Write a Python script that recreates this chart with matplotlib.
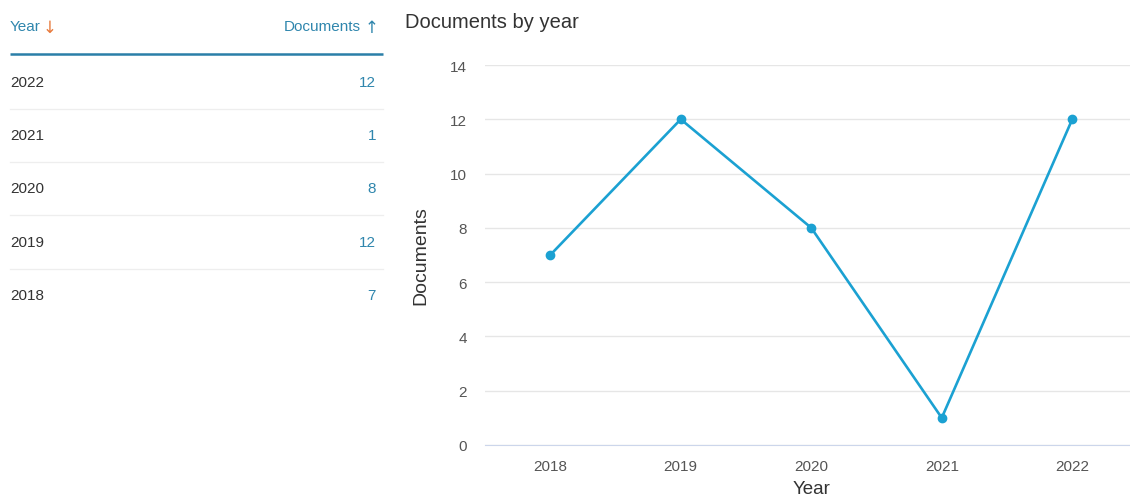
import matplotlib
matplotlib.use('Agg')
import matplotlib.pyplot as plt

plt.rcParams['font.family'] = ['Liberation Sans', 'DejaVu Sans']

# data
years = ['2018', '2019', '2020', '2021', '2022']
documents = [7, 12, 8, 1, 12]
y_ticks = [0, 2, 4, 6, 8, 10, 12, 14]

W, H = 1130, 502
fig = plt.figure(figsize=(W / 100, H / 100), dpi=100)

line_color = '#1ba1d2'
teal = '#2f86ad'

# table on the left, in pixel coordinates
tab = fig.add_axes([0, 0, 400 / W, 1])
tab.set_xlim(0, 400)
tab.set_ylim(H, 0)
tab.axis('off')

tab.text(10, 27, 'Year', color=teal, fontsize=11, va='center', ha='left')
tab.text(43, 28, '↓', color='#e87a3c', fontsize=12, va='center', ha='left',
         family='DejaVu Sans')
tab.text(361, 27, 'Documents', color=teal, fontsize=11, va='center', ha='right')
tab.text(365, 28, '↑', color=teal, fontsize=12, va='center', ha='left',
         family='DejaVu Sans')
tab.plot([10, 383], [55, 55], color='#2a7fa8', lw=1.8, solid_capstyle='butt')

row_y = [83, 136, 189, 243, 296]
rows = list(zip(years, documents))[::-1]
for i, (yr, n) in enumerate(rows):
    y = row_y[i]
    tab.text(10, y, yr, color='#333333', fontsize=11, va='center', ha='left')
    tab.text(376, y, str(n), color=teal, fontsize=11, va='center', ha='right')
    if i < len(rows) - 1:
        tab.plot([10, 383], [y + 27, y + 27], color='#eeeeee', lw=0.9)

# line chart
ax = fig.add_axes([485 / W, (H - 446) / H, 652.5 / W, 380 / H])
x = list(range(len(years)))
ax.plot(x, documents, color=line_color, lw=1.9, marker='o', markersize=6,
        zorder=3, clip_on=False)
ax.set_xlim(-0.5, len(years) - 0.5)
ax.set_ylim(0, 14)
ax.set_yticks(y_ticks)
ax.set_xticks(x)
ax.set_xticklabels(years)
ax.grid(axis='y', color='#e6e6e6', lw=1)
ax.set_axisbelow(True)
for s in ['top', 'right', 'left']:
    ax.spines[s].set_visible(False)
ax.spines['bottom'].set_color('#ccd6eb')
ax.tick_params(axis='both', length=0, labelsize=11, colors='#555555')
ax.tick_params(axis='y', pad=13)
ax.tick_params(axis='x', pad=10)
ax.set_xlabel('Year', fontsize=13.5, color='#333333', labelpad=5)
ax.set_ylabel('Documents', fontsize=14, color='#333333', labelpad=15)

fig.text(405 / W, 1 - 22 / H, 'Documents by year', fontsize=14.5, color='#333333',
         ha='left', va='center')

fig.savefig('out.png', dpi=100)
